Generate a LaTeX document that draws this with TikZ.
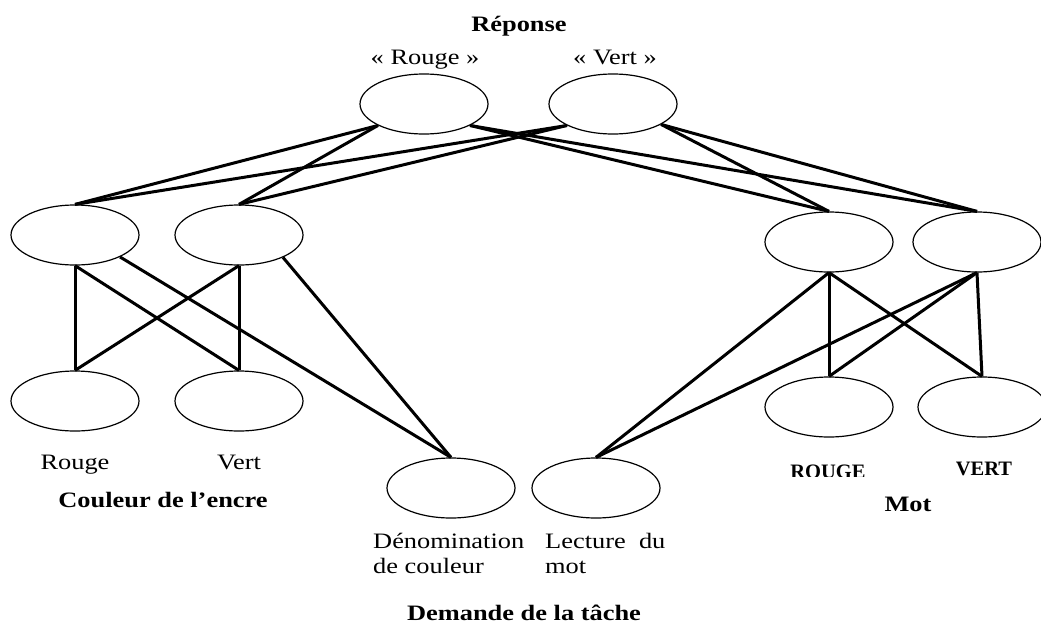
\documentclass[tikz,border=0pt]{standalone}
\usepackage{fontspec}
\setmainfont{Liberation Serif}[FakeStretch=1.2]
\newfontfamily\plainserif{Liberation Serif}
\usetikzlibrary{shapes.geometric}
\begin{document}
\begin{tikzpicture}[x=1pt,y=-1pt,
  unit/.style={ellipse,draw,line width=1.2pt,minimum width=128pt,minimum height=60pt,inner sep=0pt},
  link/.style={line width=3pt},
  txt/.style={inner sep=0pt,anchor=base,font=\fontsize{22}{25}\selectfont},
  ttl/.style={inner sep=0pt,anchor=base,font=\fontsize{22}{25}\selectfont\bfseries},
  caps/.style={inner sep=0pt,anchor=base,font=\plainserif\fontsize{20.5}{24}\selectfont\bfseries},
  multi/.style={inner sep=0pt,anchor=base west,align=left,font=\fontsize{22}{25}\selectfont}]
\useasboundingbox (0,0) rectangle (1041,624);

% units
\node[unit] (rr) at (424,104) {};
\node[unit] (rv) at (613,104) {};
\node[unit] (cr) at (75,235) {};
\node[unit] (cv) at (239,235) {};
\node[unit] (ir) at (75,401) {};
\node[unit] (iv) at (239,401) {};
\node[unit] (wr) at (829,242) {};
\node[unit] (wv) at (977,242) {};
\node[unit] (mr) at (829,407) {};
\node[unit] (mv) at (982,407) {};
\node[unit] (dn) at (451,488) {};
\node[unit] (lm) at (596,488) {};

% connectors
\draw[link] (rr.205) -- (cr.north);
\draw[link] (rr.205) -- (cv.north);
\draw[link] (rv.205) -- (cr.north);
\draw[link] (rv.205) -- (cv.north);
\draw[link] (rr.-25) -- (wr.north);
\draw[link] (rr.-25) -- (wv.north);
\draw[link] (rv.-23) -- (wr.north);
\draw[link] (rv.-23) -- (wv.north);
\draw[link] (cr.south) -- (ir.north);
\draw[link] (cr.south) -- (iv.north);
\draw[link] (cv.south) -- (iv.north);
\draw[link] (cv.south) -- (ir.north);
\draw[link] (cr.-26) -- (dn.north);
\draw[link] (cv.-27) -- (dn.north);
\draw[link] (wr.south) -- (mr.north);
\draw[link] (wr.south) -- (mv.north);
\draw[link] (wv.south) -- (mv.north);
\draw[link] (wv.south) -- (mr.north);
\draw[link] (wr.south) -- (lm.north);
\draw[link] (wv.south) -- (lm.north);

% labels
\node[ttl] (treponse) at (519,31) {Réponse};
\node[txt] (trr) at (425,64) {« Rouge »};
\node[txt] (trv) at (615,64) {« Vert »};
\node[txt] (tir) at (75,469) {Rouge};
\node[txt] (tiv) at (239,469) {Vert};
\node[ttl] (tcouleur) at (163,507) {Couleur de l’encre};
\begin{scope}
  \clip (780,450) rectangle (880,476.5);
  \node[caps] (tmr) at (828,478) {ROUGE};
\end{scope}
\node[caps] (tmv) at (984,475) {VERT};
\node[ttl] (tmot) at (908,511) {Mot};
\node[multi] (tdn) at (373,573) {Dénomination\\de couleur};
\node[multi] (tlm) at (545,573) {Lecture~~du\\mot};
\node[ttl] (tdemande) at (524,620) {Demande de la tâche};
\end{tikzpicture}
\end{document}
